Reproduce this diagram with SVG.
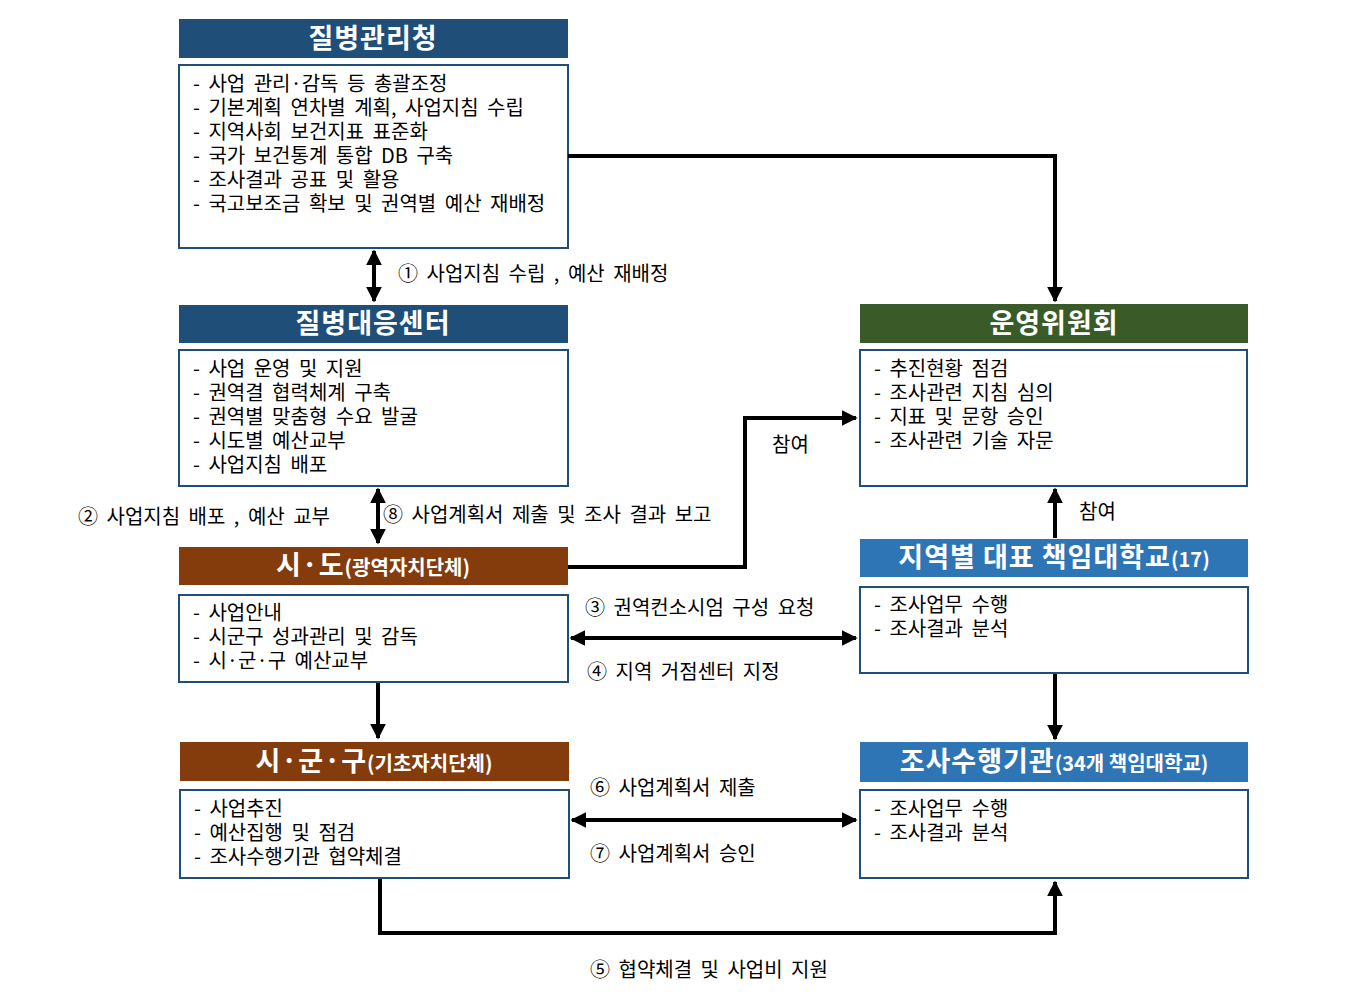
<svg xmlns="http://www.w3.org/2000/svg" width="1351" height="1000" viewBox="0 0 1351 1000">
<defs>
<marker id="ah" markerWidth="4" markerHeight="4" refX="3.6" refY="2" orient="auto-start-reverse" markerUnits="strokeWidth"><path d="M0,0 L4,2 L0,4 z" fill="#000"/></marker>
<style>
text{font-family:"Noto Sans CJK KR","Noto Sans",sans-serif}
.h{fill:#fff;font-weight:bold;font-size:27px;text-anchor:middle;letter-spacing:1px}
.hs{font-size:20px;letter-spacing:0}
.b{fill:#fff;stroke-width:2}
.t,.l{font-size:20px;fill:#000;word-spacing:4px}
.c{fill:none;stroke:#000;stroke-width:4}
</style>
</defs>
<rect width="1351" height="1000" fill="#fff"/>
<g id="n1">
<rect x="179" y="19" width="389" height="39" fill="#1F4E79"/>
<text class="h" x="373" y="48">질병관리청</text>
<rect class="b" x="179" y="65" width="389" height="183" stroke="#1F4E79"/>
<text class="t" x="193" y="91">- 사업 관리·감독 등 총괄조정</text>
<text class="t" x="193" y="115">- 기본계획 연차별 계획, 사업지침 수립</text>
<text class="t" x="193" y="139">- 지역사회 보건지표 표준화</text>
<text class="t" x="193" y="163">- 국가 보건통계 통합 DB 구축</text>
<text class="t" x="193" y="187">- 조사결과 공표 및 활용</text>
<text class="t" x="193" y="211">- 국고보조금 확보 및 권역별 예산 재배정</text>
</g>
<g id="n2">
<rect x="179" y="305" width="389" height="38" fill="#1F4E79"/>
<text class="h" x="373" y="333">질병대응센터</text>
<rect class="b" x="179" y="350" width="389" height="136" stroke="#1F4E79"/>
<text class="t" x="193" y="376">- 사업 운영 및 지원</text>
<text class="t" x="193" y="400">- 권역결 협력체계 구축</text>
<text class="t" x="193" y="424">- 권역별 맞춤형 수요 발굴</text>
<text class="t" x="193" y="448">- 시도별 예산교부</text>
<text class="t" x="193" y="472">- 사업지침 배포</text>
</g>
<g id="n3">
<rect x="179" y="547" width="389" height="38" fill="#843C0C"/>
<text class="h" x="373" y="575">시·도<tspan class="hs">(광역자치단체)</tspan></text>
<rect class="b" x="179" y="595" width="389" height="87" stroke="#1F4E79"/>
<text class="t" x="193" y="620">- 사업안내</text>
<text class="t" x="193" y="644">- 시군구 성과관리 및 감독</text>
<text class="t" x="193" y="668">- 시·군·구 예산교부</text>
</g>
<g id="n4">
<rect x="180" y="742" width="389" height="39" fill="#843C0C"/>
<text class="h" x="374" y="771">시·군·구<tspan class="hs">(기초자치단체)</tspan></text>
<rect class="b" x="180" y="790" width="389" height="88" stroke="#1F4E79"/>
<text class="t" x="194" y="816">- 사업추진</text>
<text class="t" x="194" y="840">- 예산집행 및 점검</text>
<text class="t" x="194" y="864">- 조사수행기관 협약체결</text>
</g>
<g id="n5">
<rect x="860" y="304" width="388" height="39" fill="#3A5A27"/>
<text class="h" x="1054" y="333">운영위원회</text>
<rect class="b" x="860" y="350" width="387" height="136" stroke="#1F4E79"/>
<text class="t" x="874" y="376">- 추진현황 점검</text>
<text class="t" x="874" y="400">- 조사관련 지침 심의</text>
<text class="t" x="874" y="424">- 지표 및 문항 승인</text>
<text class="t" x="874" y="448">- 조사관련 기술 자문</text>
</g>
<g id="n6">
<rect x="860" y="539" width="388" height="38" fill="#2E75B6"/>
<text class="h" x="1054" y="567">지역별 대표 책임대학교<tspan class="hs">(17)</tspan></text>
<rect class="b" x="860" y="587" width="388" height="86" stroke="#1F4E79"/>
<text class="t" x="874" y="612">- 조사업무 수행</text>
<text class="t" x="874" y="636">- 조사결과 분석</text>
</g>
<g id="n7">
<rect x="860" y="742" width="388" height="40" fill="#2E75B6"/>
<text class="h" x="1054" y="771">조사수행기관<tspan class="hs">(34개 책임대학교)</tspan></text>
<rect class="b" x="860" y="790" width="388" height="88" stroke="#1F4E79"/>
<text class="t" x="874" y="816">- 조사업무 수행</text>
<text class="t" x="874" y="840">- 조사결과 분석</text>
</g>
<g id="connectors">
<path class="c" d="M568,156 H1055 V301" marker-end="url(#ah)"/>
<path class="c" d="M374,251 V301" marker-start="url(#ah)" marker-end="url(#ah)"/>
<path class="c" d="M378,489 V543" marker-start="url(#ah)" marker-end="url(#ah)"/>
<path class="c" d="M568,567 H745 V418 H856" marker-end="url(#ah)"/>
<path class="c" d="M1055,538 V489" marker-end="url(#ah)"/>
<path class="c" d="M571,638 H856" marker-start="url(#ah)" marker-end="url(#ah)"/>
<path class="c" d="M378,683 V738" marker-end="url(#ah)"/>
<path class="c" d="M1055,674 V739" marker-end="url(#ah)"/>
<path class="c" d="M572,820 H856" marker-start="url(#ah)" marker-end="url(#ah)"/>
<path class="c" d="M380,879 V933 H1055 V882" marker-end="url(#ah)"/>
</g>
<g id="labels">
<text class="l" x="398" y="281">① 사업지침 수립 , 예산 재배정</text>
<text class="l" x="78" y="524">② 사업지침 배포 , 예산 교부</text>
<text class="l" x="383" y="522">⑧ 사업계획서 제출 및 조사 결과 보고</text>
<text class="l" x="772" y="452">참여</text>
<text class="l" x="1079" y="519">참여</text>
<text class="l" x="585" y="615">③ 권역컨소시엄 구성 요청</text>
<text class="l" x="587" y="679">④ 지역 거점센터 지정</text>
<text class="l" x="590" y="795">⑥ 사업계획서 제출</text>
<text class="l" x="590" y="861">⑦ 사업계획서 승인</text>
<text class="l" x="590" y="977">⑤ 협약체결 및 사업비 지원</text>
</g>
</svg>
